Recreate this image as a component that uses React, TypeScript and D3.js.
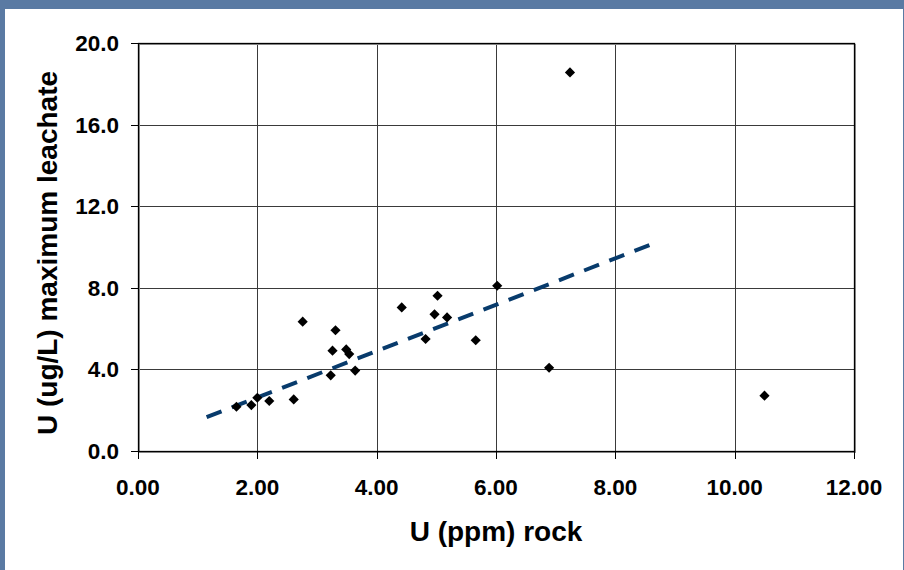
import React from 'react';
import * as d3 from 'd3';

// U in rock (ppm) vs maximum U in leachate (ug/L)
const rockU = [1.65, 1.9, 2.0, 2.2, 2.61, 2.76, 3.23, 3.26, 3.31, 3.49, 3.54, 3.64, 4.42, 4.82, 4.97, 5.02, 5.18, 5.66, 6.02, 6.89, 7.24, 10.5];
const leachU = [2.17, 2.25, 2.61, 2.45, 2.53, 6.34, 3.71, 4.92, 5.92, 4.98, 4.75, 3.94, 7.04, 5.49, 6.7, 7.61, 6.55, 5.43, 8.1, 4.08, 18.56, 2.71];

// trendline ends as drawn in the chart
const trendX = [1.15, 8.65];
const trendY = [1.66, 10.18];

const xTicks = [0, 2, 4, 6, 8, 10, 12];
const yTicks = [0, 4, 8, 12, 16, 20];

const W = 904;
const H = 570;
const plot = { left: 138, top: 43, right: 854, bottom: 451 };

const App = () => {
  const x = d3.scaleLinear().domain([0, 12]).range([plot.left, plot.right]);
  const y = d3.scaleLinear().domain([0, 20]).range([plot.bottom, plot.top]);

  const diamond = d3.symbol().type(d3.symbolSquare).size(52)();
  const trend = d3.line<number>()
    .x((d, i) => x(trendX[i]))
    .y((d) => y(d));

  const font = 'Arial, "Liberation Sans", sans-serif';

  return (
    <svg width={W} height={H} style={{ position: 'absolute', left: 0, top: 0, display: 'block' }}>
      <rect x={0} y={0} width={W} height={H} fill="#5a7aa3" />
      <rect x={5} y={9} width={898} height={H - 9} fill="#ffffff" />

      {/* grid */}
      <g stroke="#3a3a3a" strokeWidth={1}>
        {xTicks.slice(1, -1).map(t => (
          <line key={'gx' + t} x1={Math.round(x(t)) + 0.5} x2={Math.round(x(t)) + 0.5} y1={plot.top} y2={plot.bottom} />
        ))}
        {yTicks.slice(1, -1).map(t => (
          <line key={'gy' + t} x1={plot.left} x2={plot.right} y1={Math.round(y(t)) + 0.5} y2={Math.round(y(t)) + 0.5} />
        ))}
      </g>

      {/* frame with a light shadow on right and bottom */}
      <rect x={plot.left + 1.5} y={plot.top + 1.5} width={plot.right - plot.left} height={plot.bottom - plot.top} fill="none" stroke="#999" strokeWidth={1} />
      <rect x={plot.left + 0.5} y={plot.top + 0.5} width={plot.right - plot.left} height={plot.bottom - plot.top} fill="none" stroke="#000" strokeWidth={1.3} />

      {/* ticks */}
      <g stroke="#000" strokeWidth={1}>
        {yTicks.map(t => (
          <line key={'ty' + t} x1={plot.left - 7} x2={plot.left} y1={Math.round(y(t)) + 0.5} y2={Math.round(y(t)) + 0.5} />
        ))}
        {xTicks.map(t => (
          <line key={'tx' + t} x1={Math.round(x(t)) + 0.5} x2={Math.round(x(t)) + 0.5} y1={plot.bottom} y2={plot.bottom + 8} />
        ))}
      </g>

      <g fontFamily={font} fontWeight="bold" fontSize={22.5} fill="#000">
        {yTicks.map(t => (
          <text key={'ly' + t} x={plot.left - 19} y={y(t) + 8} textAnchor="end">{t.toFixed(1)}</text>
        ))}
        {xTicks.map(t => (
          <text key={'lx' + t} x={x(t)} y={plot.bottom + 44} textAnchor="middle">{t.toFixed(2)}</text>
        ))}
      </g>

      {/* trendline */}
      <path d={trend(trendY) || ''} fill="none" stroke="#083b6c" strokeWidth={4} strokeDasharray="16 11" />

      {/* points */}
      <g fill="#000">
        {rockU.map((v, i) => (
          <path key={i} d={diamond || ''} transform={`translate(${x(v)},${y(leachU[i])}) rotate(45)`} />
        ))}
      </g>

      <g fontFamily={font} fontWeight="bold" fontSize={28} fill="#000">
        <text x={496} y={541} textAnchor="middle">U (ppm) rock</text>
        <text transform={`translate(57,253) rotate(-90)`} textAnchor="middle">U (ug/L) maximum leachate</text>
      </g>
    </svg>
  );
};

export default App;
